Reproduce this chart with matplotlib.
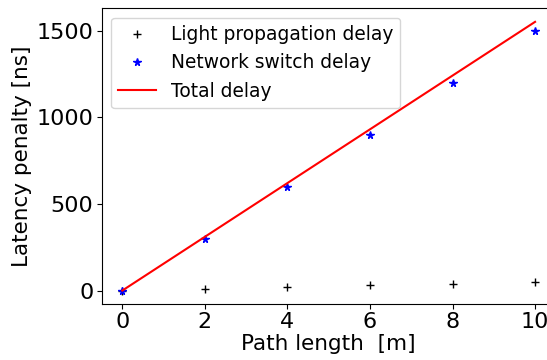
import numpy as np
import matplotlib.pyplot as plt

# path length in metres
length = [0, 2, 4, 6, 8, 10]
light_delay = [0, 10, 20, 30, 40, 50]        # ns
switch_delay = [0, 300, 600, 900, 1200, 1500]  # ns
total_delay = [0, 310, 620, 930, 1240, 1550]   # ns

fig = plt.figure(figsize=(5.47, 3.6), dpi=100)
ax = fig.add_axes([0.1859, 0.1556, 0.830, 0.821])

ax.plot(length, light_delay, '+', color='black', markersize=5.5, label='Light propagation delay')
ax.plot(length, switch_delay, '*', color='blue', markersize=5.5, label='Network switch delay')
ax.plot(length, total_delay, '-', color='red', linewidth=1.5, label='Total delay')

ax.set_xticks([0, 2, 4, 6, 8, 10])
ax.set_yticks([0, 500, 1000, 1500])
ax.tick_params(labelsize=16, pad=2.5)
ax.set_xlabel('Path length  [m]', fontsize=15.5, labelpad=1)
ax.set_ylabel('Latency penalty [ns]', fontsize=15.5, labelpad=3)
ax.legend(loc='upper left', fontsize=13.4)

plt.savefig('out.png', dpi=100)
